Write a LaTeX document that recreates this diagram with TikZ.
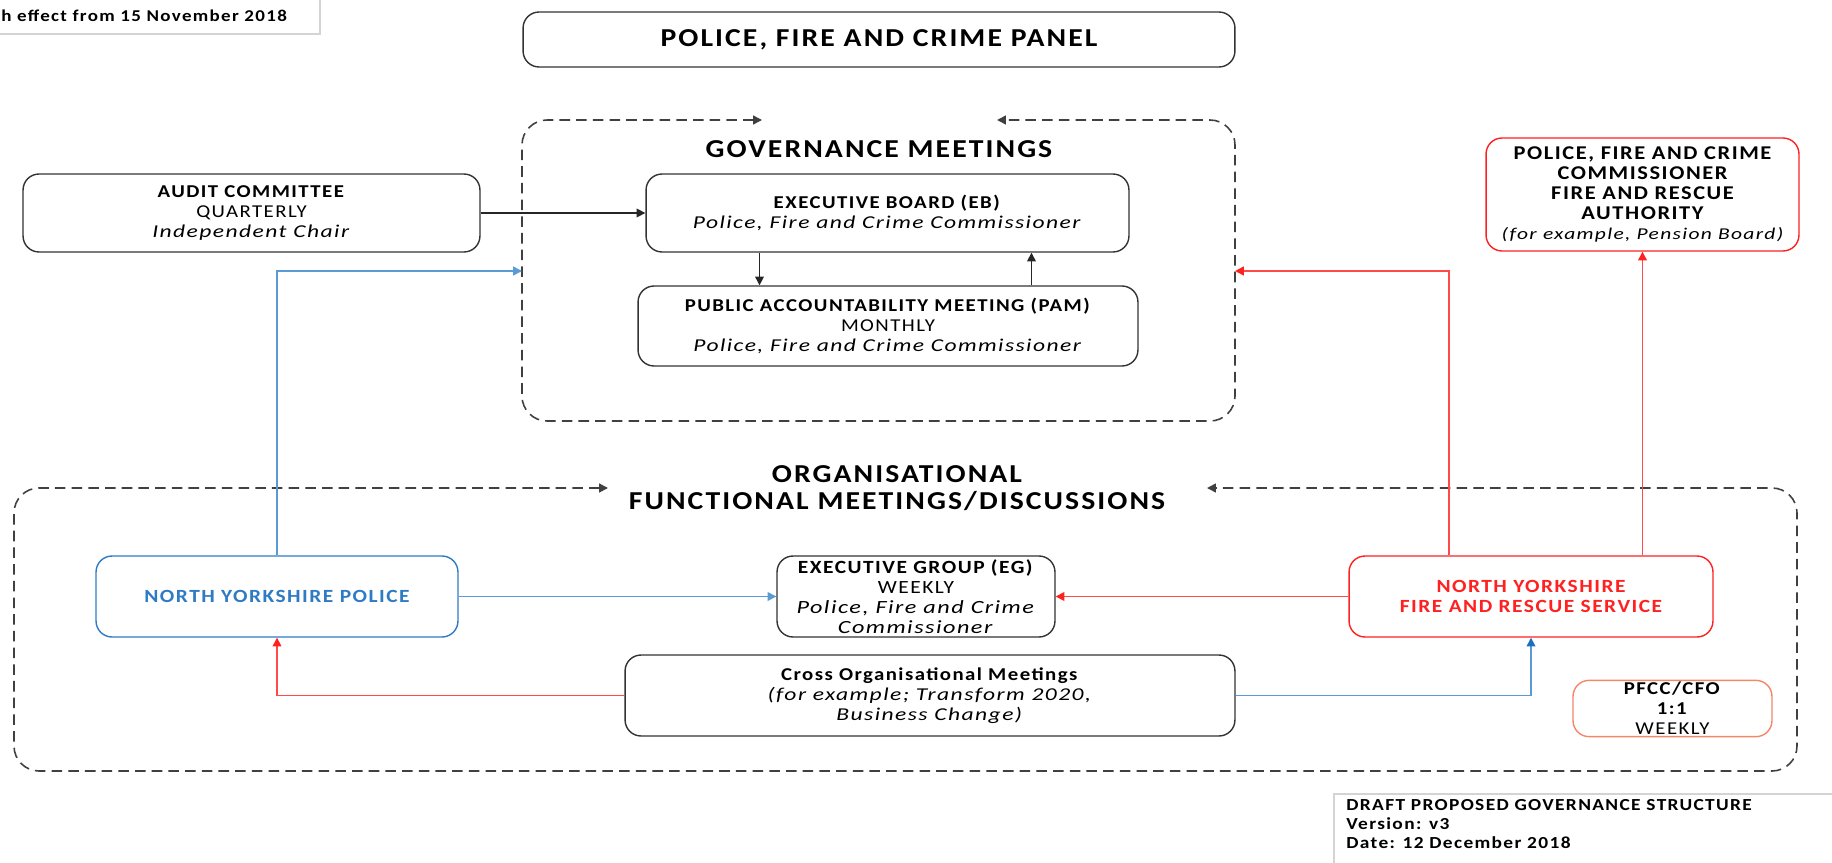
\documentclass[tikz,border=0pt]{standalone}
\usepackage{fontspec}
\setmainfont{Carlito}[LetterSpace=8,
  UprightFeatures={FakeStretch=1.15},BoldFeatures={FakeStretch=1.15},
  ItalicFeatures={FakeStretch=1.3},BoldItalicFeatures={FakeStretch=1.3}]
\usetikzlibrary{calc,arrows.meta}
\definecolor{nypblue}{HTML}{2E7BC4}
\definecolor{linkblue}{HTML}{5B9BD5}
\definecolor{tipblue}{HTML}{1F6FC0}
\definecolor{firered}{HTML}{FF2020}
\definecolor{linkred}{HTML}{FF4A4A}
\definecolor{salmon}{HTML}{F4866A}
\definecolor{dashgray}{HTML}{404040}
\definecolor{infogray}{HTML}{D4D4D4}
\tikzset{
  body/.style={font=\fontsize{10.3}{11.4}\selectfont},
  meeting/.style={body,draw=black!80,line width=0.8pt,rounded corners=0.32cm,align=center,inner sep=1pt},
  heading/.style={font=\fontsize{14.7}{15.5}\selectfont\bfseries,align=center},
  dashbox/.style={draw=dashgray,line width=0.9pt,dash pattern=on 6pt off 3.5pt,rounded corners=0.5cm,{Triangle[length=5pt,width=5pt]}-{Triangle[length=5pt,width=5pt]}},
  blk/.style={draw=black!85,line width=0.8pt,-{Triangle[length=5pt,width=5pt]}},
  bluelink/.style={draw=linkblue,line width=0.9pt,-{Triangle[length=5pt,width=5pt]}},
  redlink/.style={draw=linkred,line width=0.9pt,-{Triangle[length=5pt,width=5pt,color=firered]}},
  infobox/.style={draw=infogray,line width=0.8pt}
}
\begin{document}
\begin{tikzpicture}[x=0.02cm,y=-0.02cm]
\useasboundingbox (0,0) rectangle (1832,862);
\clip (0,0) rectangle (1832,862);

% date boxes
\draw[infobox] (-10,-10) rectangle (320,34);
\node[anchor=west,inner sep=0pt,font=\fontsize{9.4}{11}\selectfont\bfseries] (since) at (1,16) {h effect from 15 November 2018};
\draw[infobox] (1334,794) rectangle (1850,880);
\node[anchor=north west,inner sep=0pt,align=left,font=\fontsize{9.6}{10.9}\selectfont\bfseries] (draft) at (1346,799)
  {DRAFT PROPOSED GOVERNANCE STRUCTURE\\Version: v3\\Date: 12 December 2018};

% panel
\node[meeting,heading,minimum width=14.24cm,minimum height=1.1cm] (panel) at (879,39.5) {POLICE, FIRE AND CRIME PANEL};

% governance meetings
\draw[dashbox] (762,120) -- (522,120) -- (522,421) -- (1235,421) -- (1235,120) -- (997,120);
\node[heading] (govtitle) at (879,149) {GOVERNANCE MEETINGS};
\coordinate (govW) at (522,271);
\coordinate (govE) at (1235,271);

\node[meeting,minimum width=9.14cm,minimum height=1.56cm] (audit) at (251.5,213)
  {\textbf{AUDIT COMMITTEE}\\QUARTERLY\\\textit{Independent Chair}};
\node[meeting,minimum width=9.66cm,minimum height=1.56cm] (eb) at (887.5,213)
  {\textbf{EXECUTIVE BOARD (EB)}\\\textit{Police, Fire and Crime Commissioner}};
\node[meeting,minimum width=10cm,minimum height=1.6cm] (pam) at (888,326)
  {\textbf{PUBLIC ACCOUNTABILITY MEETING (PAM)}\\MONTHLY\\\textit{Police, Fire and Crime Commissioner}};
\node[meeting,draw=firered,font=\fontsize{11.1}{11.4}\selectfont\bfseries,minimum width=6.26cm,minimum height=2.26cm] (pfra) at (1642.5,194.5)
  {POLICE, FIRE AND CRIME\\COMMISSIONER\\FIRE AND RESCUE\\AUTHORITY\\\fontsize{9.4}{11.4}\selectfont\mdseries\itshape(for example, Pension Board)};

% organisational meetings
\draw[dashbox] (608,488) -- (14,488) -- (14,771) -- (1797,771) -- (1797,488) -- (1207,488);
\node[heading] (orgtitle) at (897,488) {ORGANISATIONAL\\FUNCTIONAL MEETINGS/DISCUSSIONS};

\node[meeting,draw=nypblue,text=nypblue,font=\fontsize{10.6}{11.2}\selectfont\bfseries,minimum width=7.24cm,minimum height=1.62cm] (nyp) at (277,596.5)
  {NORTH YORKSHIRE POLICE};
\node[meeting,font=\fontsize{10.6}{11.4}\selectfont,minimum width=5.56cm,minimum height=1.62cm] (eg) at (916,596.5)
  {\textbf{EXECUTIVE GROUP (EG)}\\WEEKLY\\\textit{Police, Fire and Crime}\\\textit{Commissioner}};
\node[meeting,draw=firered,text=firered,font=\fontsize{10.6}{11.4}\selectfont\bfseries,minimum width=7.28cm,minimum height=1.62cm] (nyfrs) at (1531,596.5)
  {NORTH YORKSHIRE\\FIRE AND RESCUE SERVICE};
\node[meeting,minimum width=12.2cm,minimum height=1.62cm] (cross) at (930,695.5)
  {\textbf{Cross Organisational Meetings}\\\textit{(for example; Transform 2020,}\\\textit{Business Change)}};
\node[meeting,draw=salmon,minimum width=3.98cm,minimum height=1.1cm] (cfo) at (1672.5,708.5)
  {\textbf{PFCC/CFO}\\\textbf{1:1}\\WEEKLY};

% links
\draw[blk] (audit.east) -- (eb.west);
\draw[blk] ([xshift=-2.56cm]eb.south) -- ([xshift=-2.56cm]eb.south |- pam.north);
\draw[blk] ([xshift=2.87cm]pam.north) -- ([xshift=2.87cm]pam.north |- eb.south);
\draw[bluelink] (nyp.north) |- (govW);
\draw[redlink] ([xshift=-1.64cm]nyfrs.north) |- (govE);
\draw[redlink] (pfra.south |- nyfrs.north) -- (pfra.south);
\draw[bluelink] (nyp.east) -- (eg.west);
\draw[redlink] (nyfrs.west) -- (eg.east);
\draw[redlink] (cross.west) -| (nyp.south);
\draw[bluelink,-{Triangle[length=5pt,width=5pt,color=tipblue]}] (cross.east) -| (nyfrs.south);
\end{tikzpicture}
\end{document}
